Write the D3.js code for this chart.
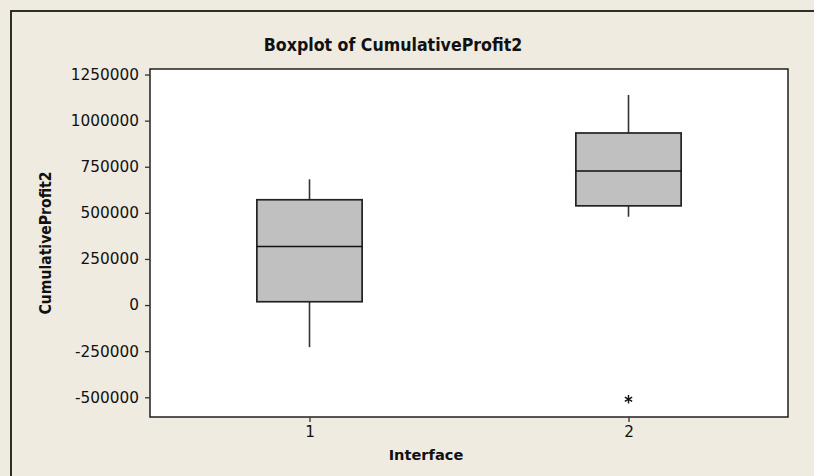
<!DOCTYPE html>
<html>
<head>
<meta charset="utf-8">
<script src="https://cdn.jsdelivr.net/npm/d3@7"></script>
<style>
  body { margin: 0; background: #efebe1; overflow: hidden; }
  .axis path { display: none; }
  .axis line { stroke: #333; stroke-width: 1.3; }
  .axis text { font-family: "DejaVu Sans", Verdana, sans-serif; font-size: 15.3px; fill: #111; }
</style>
</head>
<body>
<div class="main"></div>
<script>

// data
const categories = [1, 2];
const whiskerLow = [-228000, 479000];
const q1 = [18000, 538000];
const median = [318000, 727000];
const q3 = [571000, 933000];
const whiskerHigh = [682000, 1139000];
const outlierGroup = [2];
const outlierValue = [-511000];
const yTicks = [-500000, -250000, 0, 250000, 500000, 750000, 1000000, 1250000];

const chart = () => {

    ////////////
    // CANVAS //
    ////////////

    const w = 814;
    const h = 476;
    const plot = { left: 150, right: 788, top: 69, bottom: 417 };

    const svg = d3.select(".main")
        .append("svg")
        .attr("width", w)
        .attr("height", h)

    svg.append("rect")
        .attr("x", 11).attr("y", 11)
        .attr("width", 840).attr("height", 520)
        .attr("fill", "#efebe1")
        .attr("stroke", "#1a1a1a")
        .attr("stroke-width", 1.8)

    svg.append("rect")
        .attr("x", plot.left).attr("y", plot.top)
        .attr("width", plot.right - plot.left)
        .attr("height", plot.bottom - plot.top)
        .attr("fill", "#fff")

    ////////////
    // SCALES //
    ////////////

    const xScale = d3.scaleLinear()
        .domain([0.5, 2.5])
        .range([plot.left, plot.right])

    const yScale = d3.scaleLinear()
        .domain([-607000, 1280000])
        .range([plot.bottom, plot.top])

    const boxW = 0.33;

    ///////////
    // BOXES //
    ///////////

    const rows = categories.map((c, i) => ({
        c, lo: whiskerLow[i], q1: q1[i], med: median[i], q3: q3[i], hi: whiskerHigh[i]
    }))

    const g = svg.selectAll(".box")
        .data(rows)
        .enter()
        .append("g")
        .attr("class", "box")

    g.append("line")
        .attr("x1", d => xScale(d.c)).attr("x2", d => xScale(d.c))
        .attr("y1", d => yScale(d.hi)).attr("y2", d => yScale(d.q3))
        .attr("stroke", "#333").attr("stroke-width", 1.6)

    g.append("line")
        .attr("x1", d => xScale(d.c)).attr("x2", d => xScale(d.c))
        .attr("y1", d => yScale(d.q1)).attr("y2", d => yScale(d.lo))
        .attr("stroke", "#333").attr("stroke-width", 1.6)

    g.append("rect")
        .attr("x", d => xScale(d.c - boxW / 2))
        .attr("width", d => xScale(d.c + boxW / 2) - xScale(d.c - boxW / 2))
        .attr("y", d => yScale(d.q3))
        .attr("height", d => yScale(d.q1) - yScale(d.q3))
        .attr("fill", "#c0c0c0")
        .attr("stroke", "#222").attr("stroke-width", 1.7)

    g.append("line")
        .attr("x1", d => xScale(d.c - boxW / 2)).attr("x2", d => xScale(d.c + boxW / 2))
        .attr("y1", d => yScale(d.med)).attr("y2", d => yScale(d.med))
        .attr("stroke", "#111").attr("stroke-width", 1.5)

    // outliers
    svg.selectAll(".outlier")
        .data(outlierGroup.map((c, i) => ({ c, v: outlierValue[i] })))
        .enter()
        .append("path")
        .attr("class", "outlier")
        .attr("d", d3.symbol().type(d3.symbolAsterisk).size(50))
        .attr("transform", d => `translate(${xScale(d.c)},${yScale(d.v)})`)
        .attr("fill", "none")
        .attr("stroke", "#111")
        .attr("stroke-width", 1.4)

    // plot border
    svg.append("rect")
        .attr("x", plot.left).attr("y", plot.top)
        .attr("width", plot.right - plot.left)
        .attr("height", plot.bottom - plot.top)
        .attr("fill", "none")
        .attr("stroke", "#111")
        .attr("stroke-width", 1.4)

    ///////////
    // AXLES //
    ///////////

    svg.append("g")
        .attr("class", "axis")
        .attr("transform", `translate(0, ${plot.bottom})`)
        .call(d3.axisBottom(xScale).tickValues(categories).tickFormat(d => String(d)).tickSize(5).tickPadding(4))

    svg.append("g")
        .attr("class", "axis")
        .attr("transform", `translate(${plot.left}, 0)`)
        .call(d3.axisLeft(yScale).tickValues(yTicks).tickFormat(d => String(d)).tickSize(5).tickPadding(6))

    ////////////
    // LABELS //
    ////////////

    const bold = "'DejaVu Sans Condensed', 'DejaVu Sans', sans-serif";

    svg.append("text")
        .text("Boxplot of CumulativeProfit2")
        .attr("x", 393).attr("y", 51)
        .attr("text-anchor", "middle")
        .style("font-family", bold)
        .style("font-weight", "bold")
        .style("font-size", "17.6px")
        .style("fill", "#111")

    svg.append("text")
        .text("CumulativeProfit2")
        .attr("transform", `translate(51, ${(plot.top + plot.bottom) / 2}) rotate(-90)`)
        .attr("text-anchor", "middle")
        .style("font-family", bold)
        .style("font-weight", "bold")
        .style("font-size", "15.6px")
        .style("fill", "#111")

    svg.append("text")
        .text("Interface")
        .attr("x", 426).attr("y", 460)
        .attr("text-anchor", "middle")
        .style("font-family", "'DejaVu Sans', sans-serif")
        .style("font-weight", "bold")
        .style("font-size", "14.6px")
        .style("fill", "#111")
}

chart()

</script>
</body>
</html>
